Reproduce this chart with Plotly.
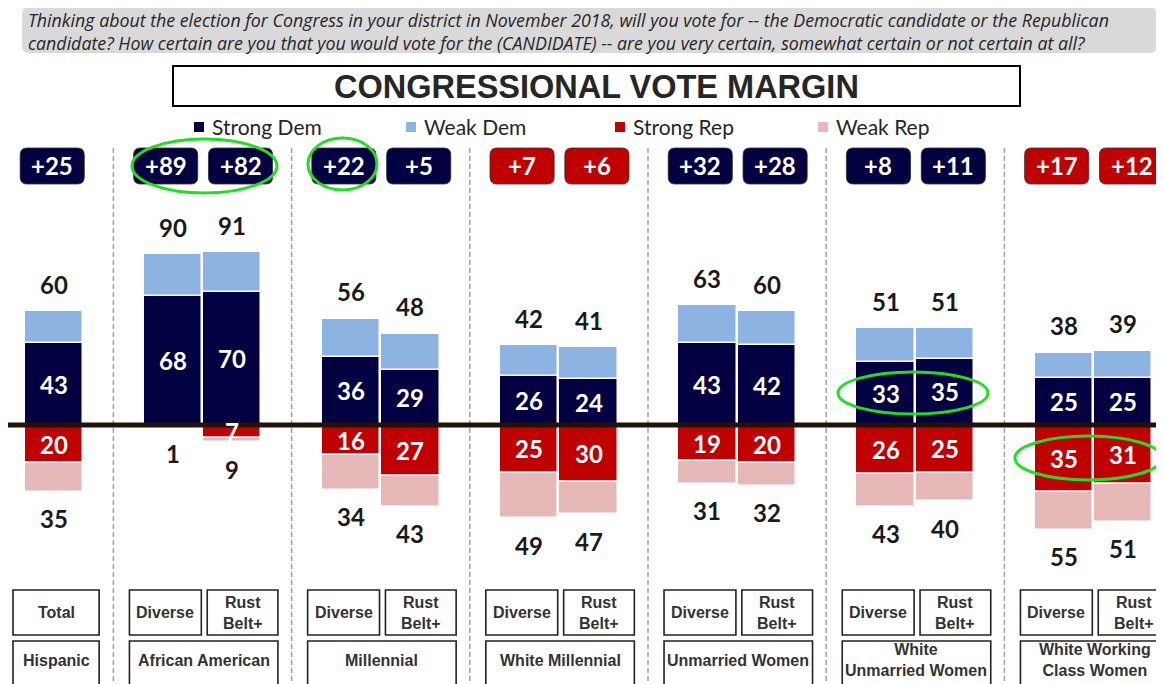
import plotly.graph_objects as go

# ---------------- data ----------------
group_labels = ["Hispanic", "African American", "Millennial", "White Millennial",
                "Unmarried Women", "White<br>Unmarried Women", "White Working<br>Class Women"]
bar_group = [0, 1, 1, 2, 2, 3, 3, 4, 4, 5, 5, 6, 6]
bar_sub = ["Total", "Diverse", "Rust<br>Belt+", "Diverse", "Rust<br>Belt+", "Diverse", "Rust<br>Belt+",
           "Diverse", "Rust<br>Belt+", "Diverse", "Rust<br>Belt+", "Diverse", "Rust<br>Belt+"]
strong_dem = [43, 68, 70, 36, 29, 26, 24, 43, 42, 33, 35, 25, 25]
total_dem = [60, 90, 91, 56, 48, 42, 41, 63, 60, 51, 51, 38, 39]
strong_rep = [20, 1, 7, 16, 27, 25, 30, 19, 20, 26, 25, 35, 31]
total_rep = [35, 1, 9, 34, 43, 49, 47, 31, 32, 43, 40, 55, 51]

weak_dem = [t - s for t, s in zip(total_dem, strong_dem)]
weak_rep = [t - s for t, s in zip(total_rep, strong_rep)]
margins = [d - r for d, r in zip(total_dem, total_rep)]

question = ["Thinking about the election for Congress in your district in November 2018, will you vote for -- the Democratic candidate or the Republican",
            "candidate? How certain are you that you would vote for the (CANDIDATE) -- are you very certain, somewhat certain or not certain at all?"]
title_text = "CONGRESSIONAL VOTE MARGIN"

# ---------------- layout constants (page pixels; the page body has an 8px margin) ----------------
OFF = 8
W, H = 1164 - OFF, 684 - OFF
PX_PER_X = 59.4
X0_PX = 54
ZERO_PX = 425
PX_PER_Y = 1.9

NAVY = "#020040"
LBLUE = "#8db3e2"
RED = "#c00000"
PINK = "#e6b9b8"
GREEN = "#22dd22"
TXT = "#1a1a1a"


def xd(px):
    return (px - X0_PX) / PX_PER_X


def xp(px):
    return (px - OFF) / W


def yp(py):
    return 1 - (py - OFF) / H


# bar positions: single bar for group 0, pairs afterwards, one empty slot between groups
xpos = []
seen = {}
for g in bar_group:
    k = seen.get(g, 0)
    seen[g] = k + 1
    xpos.append(0 if g == 0 else 3 * g - 1 + k)

fig = go.Figure()
series = [("Strong Dem", strong_dem, NAVY), ("Weak Dem", weak_dem, LBLUE),
          ("Strong Rep", [-v for v in strong_rep], RED), ("Weak Rep", [-v for v in weak_rep], PINK)]
for name, vals, col in series:
    fig.add_bar(x=xpos, y=vals, name=name, width=0.98, showlegend=False,
                marker=dict(color=col, line=dict(color="white", width=1.5)),
                hovertemplate=name + ": %{y}<extra></extra>")

shapes = []
ann = []
NUMFONT = "Lato, Arial, sans-serif"


def rounded_path(x0, x1, y0, y1, rx, ry):
    return (f"M {x0+rx},{y0} L {x1-rx},{y0} Q {x1},{y0} {x1},{y0+ry} L {x1},{y1-ry} "
            f"Q {x1},{y1} {x1-rx},{y1} L {x0+rx},{y1} Q {x0},{y1} {x0},{y1-ry} "
            f"L {x0},{y0+ry} Q {x0},{y0} {x0+rx},{y0} Z")


def pann(x, y, text, font, xanchor="center"):
    ann.append(dict(xref="paper", yref="paper", x=x, y=y, text=text, showarrow=False,
                    xanchor=xanchor, yanchor="middle", font=font))


# ---------------- header ----------------
shapes.append(dict(type="path", xref="paper", yref="paper",
                   path=rounded_path(xp(22), xp(1157), yp(53), yp(7), 8 / W, 8 / H),
                   fillcolor="#d9d9d9", line=dict(width=0), layer="below"))
for i, line in enumerate(question):
    pann(xp(26), yp(20 + 23 * i), "<i>" + line + "</i>",
         dict(family="Open Sans, sans-serif", size=17.8, color="#262626"), xanchor="left")

# ---------------- title ----------------
shapes.append(dict(type="rect", xref="paper", yref="paper", x0=xp(173), x1=xp(1020), y0=yp(106), y1=yp(66),
                   line=dict(color="#000000", width=2), fillcolor="white"))
pann(xp(596), yp(87), "<b>" + title_text + "</b>",
     dict(family="Liberation Sans, Arial, sans-serif", size=32.5, color="#262626"))

# ---------------- legend ----------------
legend_items = [("Strong Dem", NAVY, 194), ("Weak Dem", LBLUE, 406), ("Strong Rep", RED, 615), ("Weak Rep", PINK, 818)]
for name, col, px in legend_items:
    shapes.append(dict(type="rect", xref="paper", yref="paper", x0=xp(px), x1=xp(px + 10),
                       y0=yp(132), y1=yp(122), fillcolor=col, line=dict(width=0)))
    pann(xp(px + 16), yp(126), name, dict(family="Lato, sans-serif", size=21, color="#262626"), xanchor="left")

# ---------------- dividers ----------------
for g in range(1, len(group_labels)):
    xdv = 3 * g - 2
    shapes.append(dict(type="line", xref="x", yref="paper", x0=xdv, x1=xdv, y0=yp(148), y1=0,
                       line=dict(color="#a0a0a0", width=1.5, dash="5px,3px")))

# ---------------- zero line ----------------
shapes.append(dict(type="line", xref="paper", yref="y", x0=0, x1=1, y0=0, y1=0,
                   line=dict(color="#231209", width=5), layer="above"))

# ---------------- bar labels & badges ----------------
for i, x in enumerate(xpos):
    g = bar_group[i]
    k = 0 if (i == 0 or bar_group[i - 1] != g) else 1
    pair = g != 0
    off = (-0.12 if k == 0 else 0.14) if pair else -0.03
    ann.append(dict(x=x, y=strong_dem[i] / 2, text=f"<b>{strong_dem[i]}</b>", showarrow=False,
                    yanchor="middle", font=dict(family=NUMFONT, size=24, color="white")))
    if strong_rep[i] >= 5:
        ann.append(dict(x=x, y=-strong_rep[i] / 2, text=f"<b>{strong_rep[i]}</b>", showarrow=False,
                        yanchor="middle", font=dict(family=NUMFONT, size=24, color="white")))
    ann.append(dict(x=x, y=total_dem[i], yshift=27, text=f"<b>{total_dem[i]}</b>", showarrow=False,
                    yanchor="middle", font=dict(family=NUMFONT, size=24, color=TXT)))
    ann.append(dict(x=x, y=-total_rep[i], yshift=-27, text=f"<b>{total_rep[i]}</b>", showarrow=False,
                    yanchor="middle", font=dict(family=NUMFONT, size=24, color=TXT)))
    m = margins[i]
    bcol = NAVY if m >= 0 else RED
    bx = x + off
    shapes.append(dict(type="path", xref="x", yref="paper",
                       path=rounded_path(bx - 0.54, bx + 0.54, yp(184), yp(148), 0.11, 7 / H),
                       fillcolor=bcol, line=dict(color="#333333", width=0.8)))
    ann.append(dict(x=bx, xref="x", yref="paper", y=yp(166), text=f"<b>+{abs(m)}</b>", showarrow=False,
                    yanchor="middle", font=dict(family=NUMFONT, size=24, color="white")))

# ---------------- category boxes ----------------
BOX_LINE = dict(color="#222222", width=1.6)
SUBFONT = dict(family="Liberation Sans, Arial, sans-serif", size=16, color="#333333")
r1a, r1b, r2a, r2b = 590, 635, 641, 686
for g, glabel in enumerate(group_labels):
    idx = [i for i, gg in enumerate(bar_group) if gg == g]
    xs = [xpos[i] for i in idx]
    c = sum(xs) / len(xs)
    if len(xs) == 1:
        gx0, gx1 = c - 0.69, c + 0.76
        subs = [(gx0, gx1, bar_sub[idx[0]])]
    else:
        gx0, gx1 = c - 1.23, c + 1.27
        subs = [(gx0, c - 0.02, bar_sub[idx[0]]), (c + 0.08, gx1, bar_sub[idx[1]])]
    for x0, x1, lab in subs:
        shapes.append(dict(type="rect", xref="x", yref="paper", x0=x0, x1=x1, y0=yp(r1b), y1=yp(r1a),
                           line=BOX_LINE, fillcolor="white"))
        ann.append(dict(xref="x", yref="paper", x=(x0 + x1) / 2, y=yp((r1a + r1b) / 2), text="<b>" + lab + "</b>",
                        showarrow=False, yanchor="middle", font=SUBFONT))
    shapes.append(dict(type="rect", xref="x", yref="paper", x0=gx0, x1=gx1, y0=yp(r2b), y1=yp(r2a),
                       line=BOX_LINE, fillcolor="white"))
    ann.append(dict(xref="x", yref="paper", x=(gx0 + gx1) / 2, y=yp(660), text="<b>" + glabel + "</b>",
                    showarrow=False, yanchor="middle", font=SUBFONT))

# ---------------- green highlight ellipses ----------------
ellipses = [(xd(132), xd(277), 139, 193), (xd(308), xd(377), 138, 190),
            (xd(838), xd(988), 372, 414), (xd(1015), xd(1162), 436, 480)]
for x0, x1, ya, yb in ellipses:
    shapes.append(dict(type="circle", xref="x", yref="paper", x0=x0, x1=x1, y0=yp(yb), y1=yp(ya),
                       line=dict(color=GREEN, width=3), layer="above"))

fig.update_layout(
    width=W, height=H, margin=dict(l=0, r=0, t=0, b=0),
    barmode="relative", bargap=0,
    paper_bgcolor="white", plot_bgcolor="white",
    xaxis=dict(range=[xd(OFF), xd(1164)], visible=False, fixedrange=True),
    yaxis=dict(range=[-(684 - ZERO_PX) / PX_PER_Y, (ZERO_PX - OFF) / PX_PER_Y], visible=False, fixedrange=True),
    shapes=shapes, annotations=ann, showlegend=False,
)

fig.write_html("out.html")
